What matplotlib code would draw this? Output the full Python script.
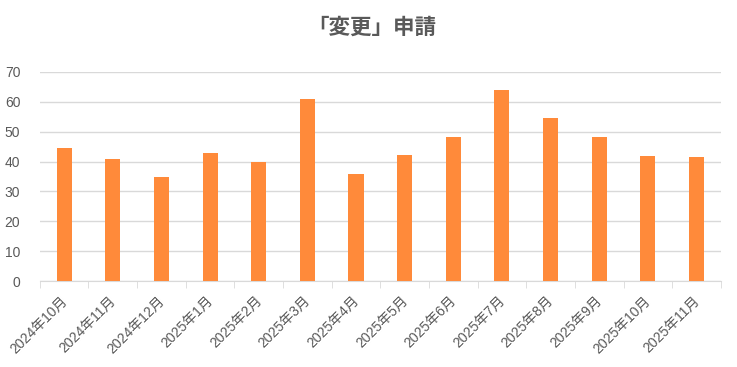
import matplotlib
matplotlib.use('Agg')
import matplotlib.pyplot as plt
import matplotlib.transforms as mtransforms
import numpy as np

months = ['2024年10月', '2024年11月', '2024年12月', '2025年1月', '2025年2月', '2025年3月',
          '2025年4月', '2025年5月', '2025年6月', '2025年7月', '2025年8月', '2025年9月',
          '2025年10月', '2025年11月']
counts = [44.5, 40.9, 34.8, 42.9, 39.9, 61.0, 35.7, 42.1, 48.1, 63.9, 54.6, 48.2, 41.9, 41.5]
y_ticks = [0, 10, 20, 30, 40, 50, 60, 70]

plt.rcParams['font.family'] = ['Liberation Sans', 'Noto Sans CJK JP', 'DejaVu Sans']

fig = plt.figure(figsize=(7.37, 3.67), dpi=100)
ax = fig.add_axes([0.054, 0.234, 0.924, 0.570])

x = np.arange(len(months))
ax.bar(x, counts, width=0.31, color='#FF8A3A', zorder=3)

ax.set_xlim(-0.5, len(months) - 0.5)
ax.set_ylim(0, 70)
ax.set_yticks(y_ticks)
ax.grid(axis='y', color='#D9D9D9', linewidth=1, zorder=0)
ax.tick_params(axis='y', length=0, labelsize=10, labelcolor='#595959', pad=14)

ax.set_xticks(x)
ax.set_xticklabels(months, rotation=45, ha='right', rotation_mode='anchor')
ax.tick_params(axis='x', which='major', length=0, labelsize=10, labelcolor='#595959', pad=9)
# nudge labels slightly left like the original
offset = mtransforms.ScaledTranslation(-3 / 72, 0, fig.dpi_scale_trans)
for lbl in ax.get_xticklabels():
    lbl.set_transform(lbl.get_transform() + offset)
ax.set_xticks(np.arange(-0.5, len(months), 1), minor=True)
ax.tick_params(axis='x', which='minor', length=5, color='#D9D9D9')

for s in ['top', 'right', 'left']:
    ax.spines[s].set_visible(False)
ax.spines['bottom'].set_color('#D9D9D9')

fig.text(0.504, 0.925, '「変更」申請', ha='center', va='center', fontsize=15.5,
         fontweight='bold', color='#595959', family=['Noto Sans CJK JP'])

plt.savefig('out.png', dpi=100)
